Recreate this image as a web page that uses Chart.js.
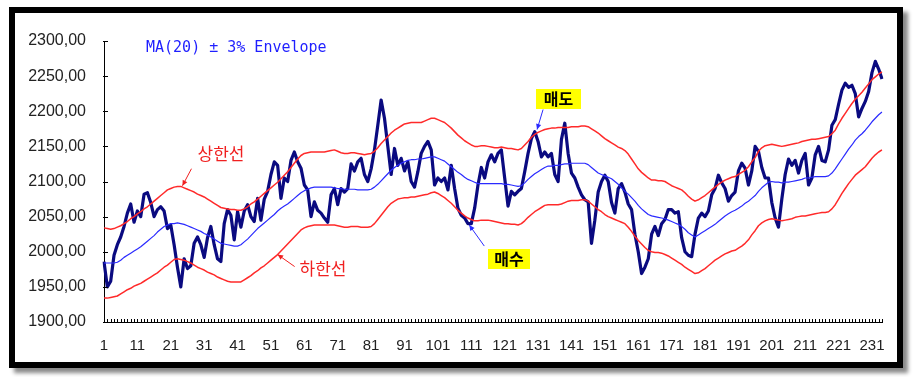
<!DOCTYPE html>
<html lang="ko">
<head>
  <meta charset="UTF-8">
  <title>MA(20) ± 3% Envelope</title>
  <script src="https://cdn.jsdelivr.net/npm/chart.js"></script>
  <style>
    body { margin: 0; background: #fff; }
    #frame {
      position: absolute; left: 9px; top: 7px;
      width: 882px; height: 349px;
      border: 6px solid #000;
      box-shadow: 5px 5px 4px #8a8a8a;
      background: #fff;
    }
    canvas { display: block; }
  </style>
</head>
<body>
<div id="frame"><canvas id="envChart" width="882" height="349"></canvas></div>
<script>
  // trading days 1..234
  const days = Array.from({ length: 234 }, (_, i) => String(i + 1));

  // closing index
  const price = [
    1986, 1950, 1958, 1995, 2010, 2021, 2036, 2055, 2068, 2042,
    2058, 2050, 2082, 2084, 2070, 2050, 2060, 2064, 2058, 2033,
    2038, 2010, 1978, 1950, 1990, 1976, 1980, 2012, 2021, 2010,
    1992, 2020, 2036, 2010, 1990, 1986, 2040, 2060, 2052, 2017,
    2057, 2035, 2058, 2067, 2050, 2043, 2076, 2045, 2075, 2086,
    2110, 2128, 2123, 2076, 2105, 2100, 2130, 2142, 2128, 2119,
    2095, 2088, 2050, 2071, 2059, 2055, 2048, 2042, 2081, 2090,
    2067, 2090, 2085, 2090, 2125, 2115, 2128, 2133, 2110, 2100,
    2118, 2145, 2180, 2216, 2190, 2150, 2110, 2147, 2123, 2133,
    2115, 2128, 2100, 2092, 2114, 2140, 2150, 2157, 2145, 2095,
    2105, 2100, 2105, 2088, 2123, 2090, 2062, 2052, 2048, 2040,
    2040, 2062, 2095, 2120, 2105, 2128, 2138, 2128, 2140, 2145,
    2105, 2065, 2086, 2081, 2086, 2090, 2114, 2140, 2161, 2171,
    2157, 2135, 2142, 2135, 2140, 2110, 2100, 2160, 2183, 2140,
    2112, 2105, 2092, 2081, 2074, 2071, 2012, 2045, 2085, 2100,
    2109, 2100, 2070, 2055, 2090, 2097, 2085, 2068, 2060, 2025,
    2000, 1969, 1978, 1990, 2025, 2036, 2023, 2040, 2046, 2060,
    2060, 2055, 2057, 2020, 2000, 1995, 1993, 2025, 2048, 2055,
    2050, 2058, 2081, 2090, 2109, 2098, 2090, 2072, 2080, 2085,
    2115, 2126, 2119, 2095, 2115, 2150, 2143, 2120, 2105, 2105,
    2070, 2048, 2035, 2075, 2110, 2132, 2123, 2130, 2112, 2130,
    2140, 2095, 2105, 2138, 2150, 2130, 2128, 2145, 2180, 2188,
    2210, 2230, 2240, 2234, 2237, 2225, 2192, 2204, 2214, 2228,
    2255, 2271, 2260, 2246
  ];

  // MA(20)
  const ma20 = [
    1984, 1984, 1984, 1984, 1985, 1988, 1992, 1995, 1998, 2001,
    2004, 2007, 2011, 2015, 2019, 2023, 2028, 2032, 2036, 2038,
    2040, 2040, 2041, 2040, 2039, 2037, 2035, 2033, 2031, 2029,
    2026, 2024, 2021, 2018, 2015, 2012, 2011, 2010, 2009, 2008,
    2008, 2010, 2014, 2018, 2023, 2028, 2033, 2037, 2041, 2045,
    2049, 2053, 2058, 2062, 2065, 2068, 2072, 2076, 2080, 2084,
    2087, 2089, 2091, 2092, 2092, 2092, 2092, 2092, 2092, 2091,
    2090, 2090, 2089, 2089, 2089, 2089, 2088, 2088, 2088, 2088,
    2089, 2092, 2096, 2101, 2106, 2111, 2116, 2120, 2123, 2126,
    2128, 2130, 2131, 2131, 2132, 2132, 2133, 2134, 2135, 2135,
    2133, 2131, 2129, 2125, 2121, 2117, 2113, 2110, 2106, 2103,
    2101, 2099, 2097, 2097, 2097, 2097, 2097, 2097, 2097, 2097,
    2096, 2096, 2095, 2094, 2093, 2094, 2098, 2103, 2107, 2111,
    2114, 2117, 2120, 2122, 2122, 2123, 2123, 2124, 2125, 2125,
    2126, 2126, 2126, 2126, 2126, 2124, 2120, 2116, 2112, 2110,
    2108, 2106, 2104, 2100, 2096, 2091, 2086, 2082, 2077, 2072,
    2066, 2061, 2057, 2053, 2051, 2050, 2049, 2048, 2047, 2045,
    2043, 2041, 2039, 2036, 2032, 2027, 2024, 2021, 2024, 2027,
    2030, 2033, 2036, 2039, 2043, 2047, 2051, 2054, 2057, 2059,
    2062, 2065, 2069, 2072, 2076, 2080, 2086, 2091, 2095, 2099,
    2100, 2099, 2099, 2098, 2099, 2099, 2100, 2101, 2102, 2103,
    2105, 2105, 2106, 2107, 2107, 2107, 2107, 2108, 2112, 2118,
    2125, 2132, 2139, 2146, 2152, 2159, 2164, 2168, 2173, 2179,
    2185, 2190, 2195, 2199
  ];

  // upper band (상한선)
  const upperBand = [
    2034, 2033, 2032, 2033, 2035, 2037, 2040, 2043, 2047, 2050,
    2054, 2057, 2061, 2064, 2068, 2072, 2076, 2080, 2084, 2088,
    2090, 2092, 2093, 2093, 2091, 2089, 2087, 2085, 2082, 2080,
    2078, 2075, 2072, 2069, 2066, 2063, 2062, 2061, 2060, 2060,
    2059, 2059, 2061, 2064, 2068, 2071, 2075, 2079, 2083, 2087,
    2091, 2095, 2099, 2104, 2109, 2114, 2120, 2126, 2132, 2137,
    2140, 2141, 2142, 2142, 2142, 2142, 2142, 2143, 2144, 2145,
    2143, 2141, 2140, 2140, 2141, 2141, 2140, 2139, 2138, 2139,
    2140, 2143, 2148, 2154, 2159, 2164, 2169, 2173, 2176, 2179,
    2182, 2183, 2184, 2184, 2184, 2184, 2186, 2188, 2190, 2190,
    2188, 2186, 2184, 2180, 2176, 2171, 2166, 2162, 2158, 2155,
    2152, 2150, 2150, 2151, 2151, 2150, 2149, 2148, 2148, 2149,
    2148, 2147, 2147, 2146, 2145, 2147, 2152, 2157, 2163, 2167,
    2170, 2172, 2174, 2175, 2176, 2176, 2177, 2177, 2177, 2177,
    2178, 2178, 2178, 2179, 2179, 2178, 2175, 2172, 2169, 2165,
    2161, 2158, 2155, 2152, 2149, 2147, 2144, 2139, 2132, 2125,
    2118, 2113, 2109, 2105, 2102, 2102, 2101, 2101, 2100, 2097,
    2094, 2092, 2090, 2088, 2084, 2079, 2075, 2072, 2074, 2077,
    2080, 2084, 2088, 2092, 2096, 2099, 2102, 2104, 2106, 2107,
    2110, 2113, 2116, 2121, 2128, 2134, 2143, 2148, 2151, 2152,
    2153, 2152, 2151, 2150, 2151, 2152, 2153, 2154, 2155, 2157,
    2158, 2159, 2160, 2160, 2161, 2162, 2163, 2164, 2168, 2173,
    2182, 2190, 2197, 2204, 2211, 2217, 2222, 2227, 2233, 2239,
    2245, 2249, 2253, 2256
  ];

  // lower band (하한선)
  const lowerBand = [
    1934, 1934, 1935, 1936, 1937, 1940, 1943, 1946, 1948, 1951,
    1953, 1955, 1958, 1961, 1964, 1967, 1970, 1974, 1978, 1981,
    1985, 1989, 1990, 1989, 1988, 1986, 1984, 1981, 1978, 1976,
    1974, 1971, 1969, 1967, 1964, 1962, 1960, 1958, 1957, 1957,
    1957, 1957, 1960, 1963, 1966, 1970, 1973, 1977, 1980, 1984,
    1988, 1992, 1996, 2001, 2006, 2011, 2016, 2021, 2026, 2031,
    2034, 2036, 2037, 2038, 2038, 2038, 2038, 2038, 2038, 2038,
    2037, 2036, 2035, 2035, 2036, 2036, 2036, 2035, 2035, 2035,
    2036, 2040, 2046, 2052, 2058, 2064, 2069, 2072, 2075, 2076,
    2077, 2077, 2078, 2078, 2079, 2080, 2081, 2082, 2084, 2085,
    2083, 2080, 2077, 2073, 2069, 2064, 2059, 2055, 2051, 2048,
    2046, 2044, 2044, 2045, 2045, 2045, 2044, 2043, 2042, 2041,
    2040, 2040, 2039, 2039, 2038, 2040, 2044, 2049, 2053, 2057,
    2060, 2063, 2066, 2067, 2067, 2067, 2067, 2068, 2070, 2072,
    2073, 2073, 2073, 2074, 2074, 2072, 2068, 2064, 2060, 2057,
    2053, 2050, 2048, 2046, 2044, 2042, 2040, 2035, 2029, 2022,
    2016, 2011, 2006, 2002, 2000, 1999, 1999, 1998, 1996, 1994,
    1991, 1988, 1985, 1982, 1978, 1975, 1972, 1969, 1970, 1973,
    1976, 1980, 1984, 1988, 1991, 1994, 1997, 1999, 2001, 2002,
    2005, 2008, 2012, 2017, 2024, 2030, 2037, 2041, 2044, 2046,
    2047, 2046, 2045, 2044, 2045, 2046, 2047, 2049, 2050, 2051,
    2051, 2052, 2053, 2054, 2055, 2056, 2056, 2057, 2061, 2067,
    2075, 2083, 2090, 2097, 2103, 2109, 2113, 2117, 2121, 2127,
    2133, 2138, 2142, 2145
  ];

  const yMin = 1900, yMax = 2300, yStep = 50;

  // arrow helper: line from (x1,y1) to (x2,y2), head at the second point
  function arrow(ctx, x1, y1, x2, y2, color) {
    const a = Math.atan2(y2 - y1, x2 - x1);
    ctx.save();
    ctx.strokeStyle = color;
    ctx.fillStyle = color;
    ctx.lineWidth = 1;
    ctx.beginPath();
    ctx.moveTo(x1, y1);
    ctx.lineTo(x2, y2);
    ctx.stroke();
    ctx.beginPath();
    ctx.moveTo(x2, y2);
    ctx.lineTo(x2 - 6 * Math.cos(a - 0.45), y2 - 6 * Math.sin(a - 0.45));
    ctx.lineTo(x2 - 6 * Math.cos(a + 0.45), y2 - 6 * Math.sin(a + 0.45));
    ctx.closePath();
    ctx.fill();
    ctx.restore();
  }

  // tick marks (inside) and text notes
  const decorPlugin = {
    id: 'decor',
    afterDraw(chart) {
      const ctx = chart.ctx;
      const x = chart.scales.x, y = chart.scales.y;
      const area = chart.chartArea;

      ctx.save();
      ctx.strokeStyle = '#000';
      ctx.lineWidth = 1;
      ctx.beginPath();
      for (let i = 0; i < days.length; i++) {
        const px = Math.round(x.getPixelForValue(i)) + 0.5;
        ctx.moveTo(px, area.bottom);
        ctx.lineTo(px, area.bottom - 3);
      }
      for (let v = yMin; v <= yMax; v += yStep) {
        const py = Math.round(y.getPixelForValue(v)) + 0.5;
        ctx.moveTo(area.left - 1, py);
        ctx.lineTo(area.left + 4, py);
      }
      ctx.stroke();
      ctx.restore();

      ctx.save();
      ctx.textBaseline = 'middle';

      ctx.fillStyle = '#1f1fff';
      ctx.font = '15px "DejaVu Sans Mono"';
      ctx.textAlign = 'left';
      ctx.fillText('MA(20) ± 3% Envelope', 131, 35);

      ctx.fillStyle = '#f02020';
      ctx.font = '17px "Noto Sans CJK KR"';
      ctx.textAlign = 'center';
      ctx.fillText('상한선', 206, 141);
      ctx.fillText('하한선', 308, 256);

      const up = { x: x.getPixelForValue(23.5), y: y.getPixelForValue(2094) };
      arrow(ctx, up.x + 9, up.y - 17, up.x, up.y, '#f02020');
      const lo = { x: x.getPixelForValue(52), y: y.getPixelForValue(1996) };
      arrow(ctx, lo.x + 17, lo.y + 12, lo.x, lo.y, '#f02020');

      ctx.fillStyle = '#ffff00';
      ctx.fillRect(521, 76, 45, 20);
      ctx.fillRect(473, 236, 42, 20);
      ctx.fillStyle = '#000';
      ctx.font = 'bold 16px "Noto Sans CJK KR"';
      ctx.fillText('매도', 543.5, 86);
      ctx.fillText('매수', 494, 246);

      const sell = { x: x.getPixelForValue(129.7), y: y.getPixelForValue(2174) };
      arrow(ctx, sell.x + 6, sell.y - 20, sell.x, sell.y, '#2a2aff');
      const buy = { x: x.getPixelForValue(109.4), y: y.getPixelForValue(2038) };
      arrow(ctx, buy.x + 15, buy.y + 21, buy.x, buy.y, '#2a2aff');

      ctx.restore();
    }
  };

  const ctx = document.getElementById('envChart').getContext('2d');
  new Chart(ctx, {
    type: 'line',
    data: {
      labels: days,
      datasets: [
        { label: 'Upper', data: upperBand, borderColor: '#ff2a2a', borderWidth: 1.5 },
        { label: 'Lower', data: lowerBand, borderColor: '#ff2a2a', borderWidth: 1.5 },
        { label: 'MA(20)', data: ma20, borderColor: '#2a2aff', borderWidth: 1.2 },
        { label: 'Index', data: price, borderColor: '#0a0a80', borderWidth: 3.2 }
      ]
    },
    options: {
      responsive: false,
      animation: false,
      devicePixelRatio: 1,
      elements: {
        point: { radius: 0 },
        line: { tension: 0, fill: false, borderJoinStyle: 'round' }
      },
      layout: { padding: { left: 0, right: 12, top: 28, bottom: 0 } },
      plugins: {
        legend: { display: false },
        tooltip: { enabled: false }
      },
      scales: {
        x: {
          offset: false,
          grid: { display: false, drawTicks: false },
          border: { display: true, color: '#000', width: 1 },
          ticks: {
            autoSkip: false,
            maxRotation: 0,
            padding: 15,
            color: '#222',
            font: { family: 'Liberation Sans', size: 15 },
            callback: (v, i) => (i % 10 === 0 ? days[i] : '')
          },
          afterFit: s => { s.height = 40; }
        },
        y: {
          min: yMin,
          max: yMax,
          grid: { display: false, drawTicks: false },
          border: { display: true, color: '#000', width: 1 },
          ticks: {
            stepSize: yStep,
            padding: 18,
            color: '#222',
            font: { family: 'Liberation Sans', size: 16 },
            callback: v => v.toFixed(2).replace('.', ',')
          },
          afterFit: s => { s.width = 89; }
        }
      }
    },
    plugins: [decorPlugin]
  });
</script>
</body>
</html>
